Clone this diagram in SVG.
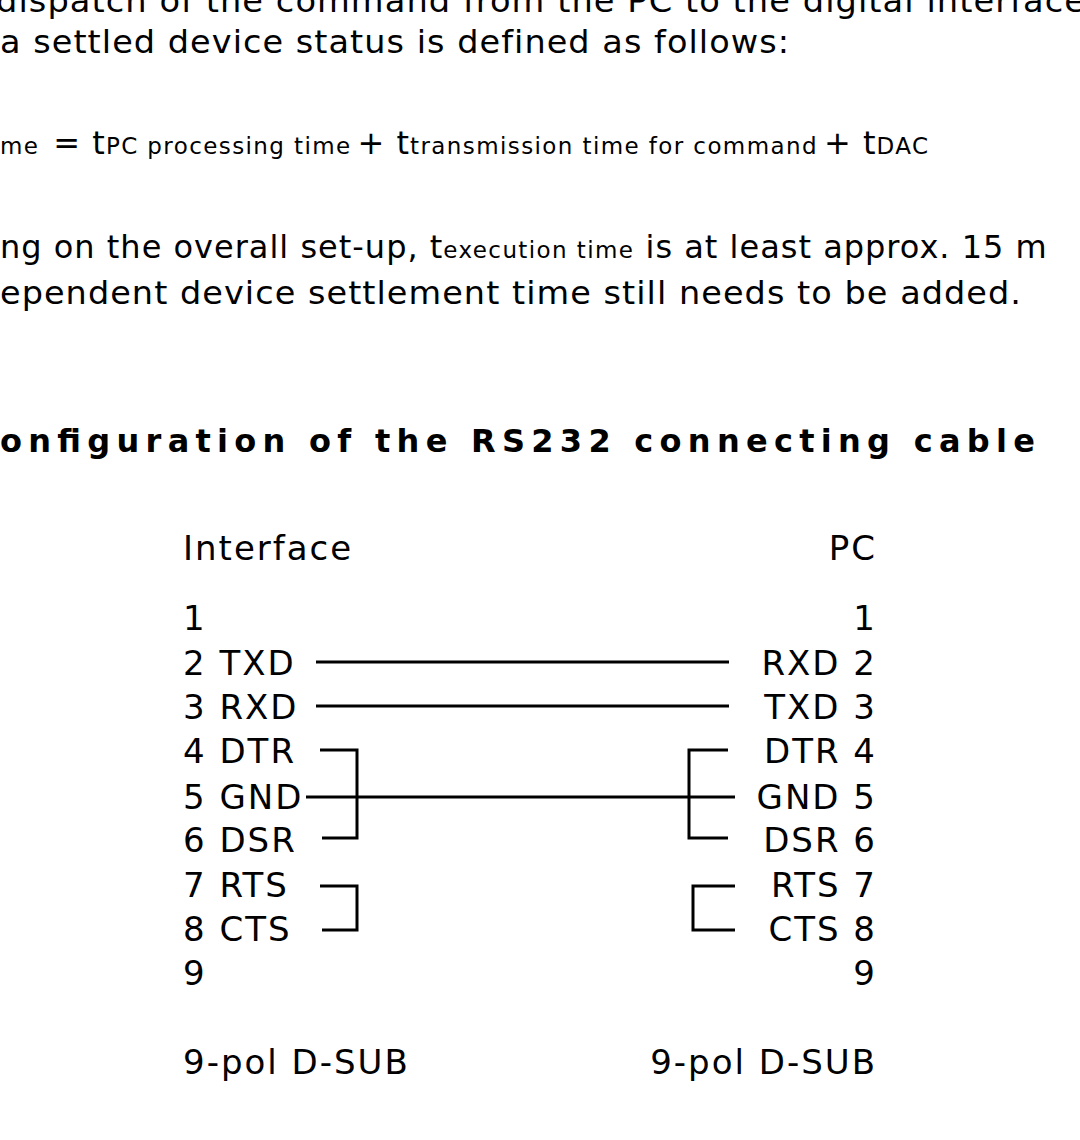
<svg xmlns="http://www.w3.org/2000/svg" width="1080" height="1140" viewBox="0 0 1080 1140">
<style>
text{font-family:"DejaVu Sans",Verdana,sans-serif;fill:#000}
.b{font-size:32px;letter-spacing:1px}
.s{font-size:23px;letter-spacing:1.4px}
.d{font-size:34px;letter-spacing:2px}
.r{text-anchor:end}
line,path{stroke:#000;stroke-width:3;fill:none}
</style>
<rect width="1080" height="1140" fill="#fff"/>
<g id="text">
<text class="b" x="-4" y="12" textLength="1090" lengthAdjust="spacingAndGlyphs">dispatch of the command from the PC to the digital interface</text>
<text class="b" x="0" y="53" textLength="790" lengthAdjust="spacingAndGlyphs">a settled device status is defined as follows:</text>
<text x="0" y="154"><tspan class="s">me</tspan><tspan class="b" dx="14">= t</tspan><tspan class="s">PC processing time</tspan><tspan class="b" dx="6">+ t</tspan><tspan class="s">transmission time for command</tspan><tspan class="b" dx="6">+ t</tspan><tspan class="s">DAC</tspan></text>
<text x="0" y="258"><tspan class="b">ng on the overall set-up, t</tspan><tspan class="s">execution time</tspan><tspan class="b"> is at least approx. 15 m</tspan></text>
<text class="b" x="0" y="304" textLength="1022" lengthAdjust="spacingAndGlyphs">ependent device settlement time still needs to be added.</text>
<text x="0" y="452" font-size="32" font-weight="bold" textLength="1035" lengthAdjust="spacing">onfiguration of the RS232 connecting cable</text>
</g>
<g id="interface">
<text class="d" x="183" y="560">Interface</text>
<text class="d" x="183" y="630">1</text>
<text class="d" x="183" y="675">2 TXD</text>
<text class="d" x="183" y="719">3 RXD</text>
<text class="d" x="183" y="763">4 DTR</text>
<text class="d" x="183" y="809">5 GND</text>
<text class="d" x="183" y="852">6 DSR</text>
<text class="d" x="183" y="897">7 RTS</text>
<text class="d" x="183" y="941">8 CTS</text>
<text class="d" x="183" y="985">9</text>
<text class="d" x="183" y="1074">9-pol D-SUB</text>
</g>
<g id="pc">
<text class="d r" x="877" y="560">PC</text>
<text class="d r" x="877" y="630">1</text>
<text class="d r" x="877" y="675">RXD 2</text>
<text class="d r" x="877" y="719">TXD 3</text>
<text class="d r" x="877" y="763">DTR 4</text>
<text class="d r" x="877" y="809">GND 5</text>
<text class="d r" x="877" y="852">DSR 6</text>
<text class="d r" x="877" y="897">RTS 7</text>
<text class="d r" x="877" y="941">CTS 8</text>
<text class="d r" x="877" y="985">9</text>
<text class="d r" x="877" y="1074">9-pol D-SUB</text>
</g>
<g id="connectors">
<line x1="316" y1="662" x2="729" y2="662"/>
<line x1="316" y1="706" x2="729" y2="706"/>
<path d="M320 750H357V838H322"/>
<line x1="306" y1="797" x2="735" y2="797"/>
<path d="M728 750H689V838H728"/>
<path d="M320 886H357V930H322"/>
<path d="M735 886H693V930H735"/>
</g>
</svg>
